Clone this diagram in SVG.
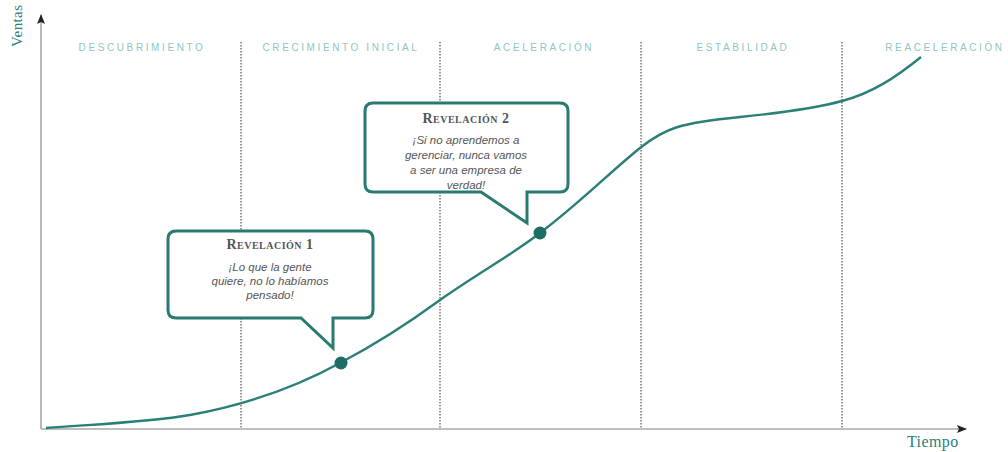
<svg xmlns="http://www.w3.org/2000/svg" width="1008" height="452" viewBox="0 0 1008 452">
<defs>
<style>
.phase{font-family:"Liberation Sans",Arial,sans-serif;font-size:10px;letter-spacing:2.6px;fill:#8fc6c0;text-anchor:middle}
.sep{stroke:#777;stroke-width:1.5;stroke-dasharray:1.5 1.5}
.axis{stroke:#a8a8a8;stroke-width:1.6;fill:none}
.curve{stroke:#2a7f77;stroke-width:2.4;fill:none}
.bubble{fill:#fff;stroke:#2b7a71;stroke-width:3;stroke-linejoin:miter}
.ttl{font-family:"Liberation Serif","Times New Roman",serif;font-size:14px;font-weight:bold;font-variant:small-caps;fill:#555;text-anchor:middle;letter-spacing:0.5px}
.quote{font-family:"Liberation Sans",Arial,sans-serif;font-size:11.5px;font-style:italic;fill:#555;text-anchor:middle}
.axlbl{font-family:"Liberation Serif","Times New Roman",serif;font-size:16px;fill:#2a8078;letter-spacing:0.4px}
</style>
<marker id="ah" markerWidth="10" markerHeight="8" refX="9" refY="4" orient="auto" markerUnits="userSpaceOnUse">
<path d="M0,0 L10,4 L0,8 L2,4 z" fill="#222"/>
</marker>
</defs>
<rect width="1008" height="452" fill="#fff"/>
<g id="phases">
<text class="phase" x="142" y="51">DESCUBRIMIENTO</text>
<text class="phase" x="341" y="51">CRECIMIENTO INICIAL</text>
<text class="phase" x="544" y="51">ACELERACIÓN</text>
<text class="phase" x="743" y="51">ESTABILIDAD</text>
<text class="phase" x="945" y="51">REACELERACIÓN</text>
</g>
<g id="separators">
<line class="sep" x1="241" y1="42" x2="241" y2="429"/>
<line class="sep" x1="440" y1="42" x2="440" y2="429"/>
<line class="sep" x1="641" y1="42" x2="641" y2="429"/>
<line class="sep" x1="842" y1="42" x2="842" y2="429"/>
</g>
<g id="connectors">
<line class="axis" x1="41" y1="429" x2="41" y2="15" marker-end="url(#ah)"/>
<line class="axis" x1="41" y1="429" x2="966" y2="429" marker-end="url(#ah)"/>
<path class="curve" d="M46,428 C100,424 150,422 190,415 C250,404 300,385 340,363 C380,342 410,322 440,300 C480,272 510,256 540,233 C580,203 610,172 640,148 C665,128 680,123 740,117 C790,112 820,107 842,101 C872,93 895,78 921,57"/>
</g>
<g id="ventas"><text class="axlbl" transform="translate(22,47) rotate(-90)" x="0" y="0" style="font-size:15px">Ventas</text></g>
<g id="tiempo"><text class="axlbl" x="907" y="447">Tiempo</text></g>
<g id="revelacion1">
<path class="bubble" d="M176,231 H365 Q373,231 373,239 V310 Q373,318 365,318 H333 V348 L301,318 H176 Q168,318 168,310 V239 Q168,231 176,231 Z"/>
<text class="ttl" x="270" y="249">Revelación 1</text>
<text class="quote" x="270" y="271">¡Lo que la gente</text>
<text class="quote" x="270" y="285">quiere, no lo habíamos</text>
<text class="quote" x="270" y="299">pensado!</text>
<circle cx="341" cy="363" r="6.5" fill="#1f6e66"/>
</g>
<g id="revelacion2">
<path class="bubble" d="M373,103 H560 Q568,103 568,111 V184 Q568,192 560,192 H527 V223 L481,192 H373 Q365,192 365,184 V111 Q365,103 373,103 Z"/>
<text class="ttl" x="466" y="123">Revelación 2</text>
<text class="quote" x="466" y="144">¡Si no aprendemos a</text>
<text class="quote" x="466" y="159">gerenciar, nunca vamos</text>
<text class="quote" x="466" y="174">a ser una empresa de</text>
<text class="quote" x="466" y="189">verdad!</text>
<circle cx="540" cy="233" r="6.5" fill="#1f6e66"/>
</g>
</svg>
